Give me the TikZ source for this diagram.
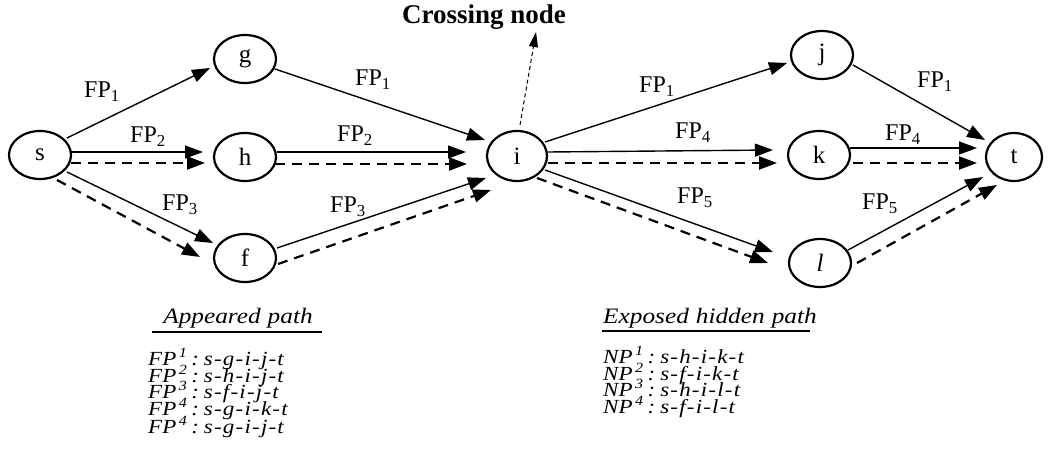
\documentclass[tikz,border=0pt]{standalone}
\usepackage{fontspec}
\setmainfont{Liberation Serif}
\newfontfamily\pathfont[FakeStretch=1.15]{Liberation Serif}
\usetikzlibrary{arrows.meta,calc,shapes.geometric}

% hyphen with a little air, as used in the path listings
\newcommand{\hy}{\kern1.2pt-\kern1.2pt}
% one path listing: name, index, route
\newcommand{\pathrow}[3]{#1\kern2.5pt\textsuperscript{#2}\kern4pt:\kern5pt#3}

\begin{document}
\begin{tikzpicture}[x=1pt,y=-1pt,
  vertex/.style={draw, ellipse, line width=2.2pt, minimum width=62pt,
    minimum height=48pt, inner sep=0pt, font=\fontsize{25}{27}\selectfont},
  flow/.style={line width=1.4pt, -{Triangle[length=18pt,width=13pt]}},
  hidden/.style={line width=2.2pt, dash pattern=on 10pt off 7pt,
    -{Triangle[length=18pt,width=13pt]}},
  lab/.style={font=\fontsize{24}{26}\selectfont, inner sep=0pt},
  head/.style={font=\pathfont\fontsize{22}{24}\selectfont\itshape, inner sep=0pt, anchor=base},
  row/.style={font=\pathfont\fontsize{20}{22}\selectfont\itshape, inner sep=0pt,
    anchor=base west, text height=11pt, text depth=3pt}]
\useasboundingbox (0,0) rectangle (1057,465);

% vertices
\node[vertex] (s) at (40,155) {s};
\node[vertex] (g) at (245,59) {g};
\node[vertex] (h) at (245,157) {h};
\node[vertex] (f) at (245,258) {f};
\node[vertex, minimum width=60pt, minimum height=50pt] (i) at (517,156) {i};
\node[vertex] (j) at (822,55) {j};
\node[vertex] (k) at (819,155) {k};
\node[vertex] (l) at (820,263) {\itshape l};
\node[vertex, minimum width=56pt] (t) at (1014,157) {t};

% crossing node marker
\node[font=\fontsize{27}{29}\selectfont\bfseries, inner sep=0pt] (cross) at (484,17) {Crossing node};
\coordinate (crossTip) at (536,32);
\draw[line width=1pt, dash pattern=on 4pt off 3pt, -{Triangle[length=15pt,width=9pt]}]
  ([xshift=3pt,yshift=31pt]i.center) -- (crossTip);

% s -> g, h, f
\draw[flow]   ([xshift=27pt,yshift=17pt]s.center) -- ([xshift=-35pt,yshift=-9pt]g.center);
\draw[flow]   ([xshift=31pt,yshift=3pt]s.center)  -- ([xshift=-42pt,yshift=5pt]h.center);
\draw[hidden] ([xshift=31pt,yshift=-8pt]s.center) -- ([xshift=-40pt,yshift=-6pt]h.center);
\draw[flow]   ([xshift=27pt,yshift=-17pt]s.center) -- ([xshift=-32pt,yshift=15pt]f.center);
\draw[hidden] ([xshift=17pt,yshift=-25pt]s.center) -- ([xshift=-45pt,yshift=1pt]f.center);

% g, h, f -> i
\draw[flow]   ([xshift=30pt,yshift=-10pt]g.center) -- ([xshift=-32pt,yshift=16pt]i.center);
\draw[flow]   ([xshift=32pt,yshift=5pt]h.center)  -- ([xshift=-51pt,yshift=4pt]i.center);
\draw[hidden] ([xshift=30pt,yshift=-7pt]h.center) -- ([xshift=-50pt,yshift=-8pt]i.center);
\draw[flow]   ([xshift=32pt,yshift=10pt]f.center) -- ([xshift=-31pt,yshift=-22pt]i.center);
\draw[hidden] ([xshift=33pt,yshift=-6pt]f.center) -- ([xshift=-26pt,yshift=-34pt]i.center);

% i -> j, k, l
\draw[flow]   ([xshift=28pt,yshift=14pt]i.center) -- ([xshift=-35pt,yshift=-8pt]j.center);
\draw[flow]   ([xshift=31pt,yshift=4pt]i.center)  -- ([xshift=-46pt,yshift=5pt]k.center);
\draw[hidden] ([xshift=31pt,yshift=-7pt]i.center) -- ([xshift=-42pt,yshift=-8pt]k.center);
\draw[flow]   ([xshift=28pt,yshift=-14pt]i.center) -- ([xshift=-47pt,yshift=11pt]l.center);
\draw[hidden] ([xshift=20pt,yshift=-22pt]i.center) -- ([xshift=-52pt,yshift=0pt]l.center);

% j, k, l -> t
\draw[flow]   ([xshift=31pt,yshift=-10pt]j.center) -- ([xshift=-29pt,yshift=17pt]t.center);
\draw[flow]   ([xshift=31pt,yshift=7pt]k.center)  -- ([xshift=-37pt,yshift=9pt]t.center);
\draw[hidden] ([xshift=34pt,yshift=-8pt]k.center) -- ([xshift=-37pt,yshift=-6pt]t.center);
\draw[flow]   ([xshift=28pt,yshift=13pt]l.center) -- ([xshift=-31pt,yshift=-20pt]t.center);
\draw[hidden] ([xshift=37pt,yshift=0pt]l.center)  -- ([xshift=-17pt,yshift=-28pt]t.center);

% flow labels
\node[lab] (lsg) at (102,92)  {FP\textsubscript{1}};
\node[lab] (lsh) at (148,137) {FP\textsubscript{2}};
\node[lab] (lsf) at (180,205) {FP\textsubscript{3}};
\node[lab] (lgi) at (373,80)  {FP\textsubscript{1}};
\node[lab] (lhi) at (355,136) {FP\textsubscript{2}};
\node[lab] (lfi) at (348,207) {FP\textsubscript{3}};
\node[lab] (lij) at (657,87)  {FP\textsubscript{1}};
\node[lab] (lik) at (693,133) {FP\textsubscript{4}};
\node[lab] (lil) at (695,198) {FP\textsubscript{5}};
\node[lab] (ljt) at (935,82)  {FP\textsubscript{1}};
\node[lab] (lkt) at (903,135) {FP\textsubscript{4}};
\node[lab] (llt) at (880,204) {FP\textsubscript{5}};

% appeared paths
\node[head] (ap) at (238,323) {Appeared\kern7pt path};
\draw[line width=1.2pt] ($(ap.base)+(-86,9)$) -- ($(ap.base)+(84,9)$);
\node[row] (fp1) at (148,365) {\pathrow{FP}{1}{s\hy g\hy i\hy j\hy t}};
\node[row] (fp2) at (148,382) {\pathrow{FP}{2}{s\hy h\hy i\hy j\hy t}};
\node[row] (fp3) at (148,398) {\pathrow{FP}{3}{s\hy f\hy i\hy j\hy t}};
\node[row] (fp4) at (148,415) {\pathrow{FP}{4}{s\hy g\hy i\hy k\hy t}};
\node[row] (fp5) at (148,433) {\pathrow{FP}{4}{s\hy g\hy i\hy j\hy t}};

% exposed hidden paths
\node[head, anchor=base west] (hp) at (603,323) {Exposed\kern7pt hidden\kern7pt path};
\draw[line width=1.2pt] ($(hp.base west)+(-1,8)$) -- ($(hp.base west)+(207,8)$);
\node[row] (np1) at (603,363) {\pathrow{NP}{1}{s\hy h\hy i\hy k\hy t}};
\node[row] (np2) at (603,380) {\pathrow{NP}{2}{s\hy f\hy i\hy k\hy t}};
\node[row] (np3) at (603,396) {\pathrow{NP}{3}{s\hy h\hy i\hy l\hy t}};
\node[row] (np4) at (603,413) {\pathrow{NP}{4}{s\hy f\hy i\hy l\hy t}};
\end{tikzpicture}
\end{document}
